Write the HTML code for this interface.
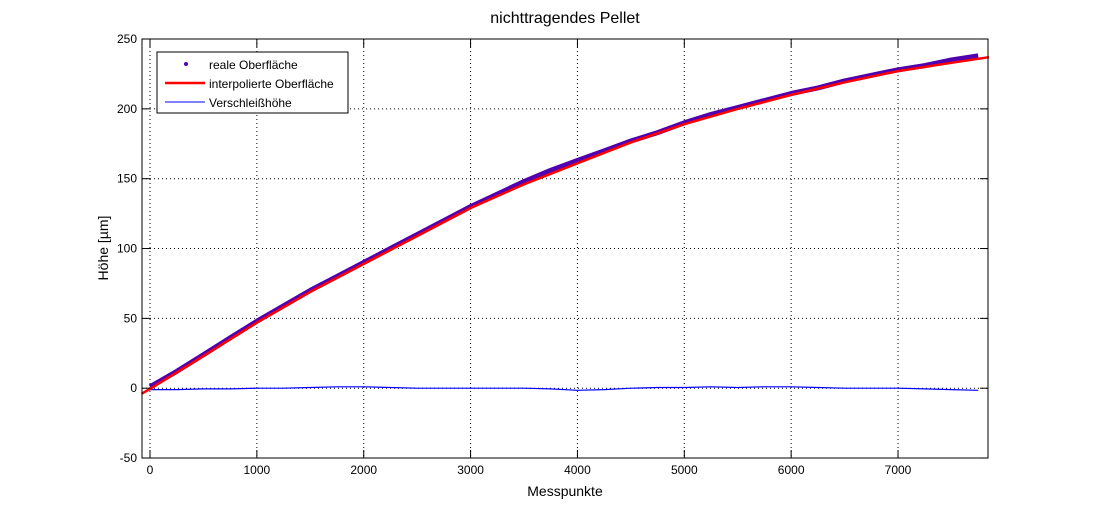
<!DOCTYPE html>
<html><head><meta charset="utf-8"><style>
body{margin:0;background:#fff;}
svg{font-family:"Liberation Sans",sans-serif;display:block}
</style></head><body>
<svg id="chart" width="1093" height="515">
<text x="565" y="23" font-size="16" text-anchor="middle">nichttragendes Pellet</text>
<g id="grid"></g>
<g id="series"></g>
<rect x="142" y="39" width="846" height="419" fill="none" stroke="#000"/>
<g id="ticks"></g>
<text x="565" y="496" font-size="14" text-anchor="middle">Messpunkte</text>
<text x="108" y="248" font-size="14" text-anchor="middle" transform="rotate(-90 108 248)">Höhe [µm]</text>
<g>
<rect x="157" y="52" width="191" height="61" fill="#fff" stroke="#000"/>
<circle cx="186" cy="64" r="2" fill="#5000b0"/>
<text x="209" y="69" font-size="12">reale Oberfläche</text>
<line x1="165" y1="83" x2="205" y2="83" stroke="#f00" stroke-width="2.5"/>
<text x="209" y="88" font-size="12">interpolierte Oberfläche</text>
<line x1="165" y1="102" x2="205" y2="102" stroke="#00f" stroke-width="1"/>
<text x="209" y="107" font-size="12">Verschleißhöhe</text>
</g>
</svg>
<script>
const xPoints=[0,250,500,750,1000,1250,1500,1750,2000,2250,2500,2750,3000,3250,3500,3750,4000,4250,4500,4750,5000,5250,5500,5750,6000,6250,6500,6750,7000,7250,7500,7750];
const realValues=[1,12,24,36,48,59,70,80,90,100,110,120,130,139,148,156,163,170,177,183,190,196,201,206,211,215,220,224,228,231,235,238];
const fitX=[-80,0,500,1000,1500,2000,2500,3000,3500,4000,4500,5000,5500,6000,6500,7000,7500,7850];
const fitValues=[-4,-0.5,23,47,69,89,109,129,146,161,176,189,200,210,219,227,233,237];
const wearValues=[-1,-1,-0.5,-0.5,0,0,0.5,1,1,0.5,0,0,0,0,0,-0.5,-1.5,-1,0,0.5,0.5,1,0.5,1,1,0.5,0,0,0,-0.5,-1,-1.5];
const xTicks=[0,1000,2000,3000,4000,5000,6000,7000];
const yTicks=[-50,0,50,100,150,200,250];
const X=v=>150+(v)*0.10686;
const Y=v=>388.2-v*1.3967;
const NS="http://www.w3.org/2000/svg";
function mk(t,p,a){const e=document.createElementNS(NS,t);for(const k in a)e.setAttribute(k,a[k]);p.appendChild(e);return e;}
const grid=document.getElementById('grid'),ticks=document.getElementById('ticks'),ser=document.getElementById('series');
xTicks.forEach(v=>{const x=X(v);
 const g=mk('line',grid,{x1:x,y1:39,x2:x,y2:458,stroke:'#000','stroke-dasharray':'1,3'});
 
 mk('line',ticks,{x1:x,y1:458,x2:x,y2:450,stroke:'#000'});mk('line',ticks,{x1:x,y1:39,x2:x,y2:47,stroke:'#000'});
 const t=mk('text',ticks,{x:x,y:474,'font-size':12,'text-anchor':'middle'});t.textContent=v;
 });
yTicks.forEach(v=>{const y=Y(v);
 const g=mk('line',grid,{x1:142,y1:y,x2:988,y2:y,stroke:'#000','stroke-dasharray':'1,3'});
 
 mk('line',ticks,{x1:142,y1:y,x2:150,y2:y,stroke:'#000'});mk('line',ticks,{x1:988,y1:y,x2:980,y2:y,stroke:'#000'});
 const t=mk('text',ticks,{x:137,y:y+4,'font-size':12,'text-anchor':'end'});t.textContent=v;
 });
const pts=(xs,ys)=>xs.map((x,i)=>X(x).toFixed(1)+','+Y(ys[i]).toFixed(1)).join(' ');
const w=mk('polyline',ser,{points:pts(xPoints,wearValues),fill:'none',stroke:'#00f','stroke-width':1.2});

const r=mk('polyline',ser,{points:pts(xPoints,realValues),fill:'none',stroke:'#5000b0','stroke-width':5,'stroke-linejoin':'round'});

const f=mk('polyline',ser,{points:pts(fitX,fitValues),fill:'none',stroke:'#f00','stroke-width':2.5});

</script>
</body></html>
